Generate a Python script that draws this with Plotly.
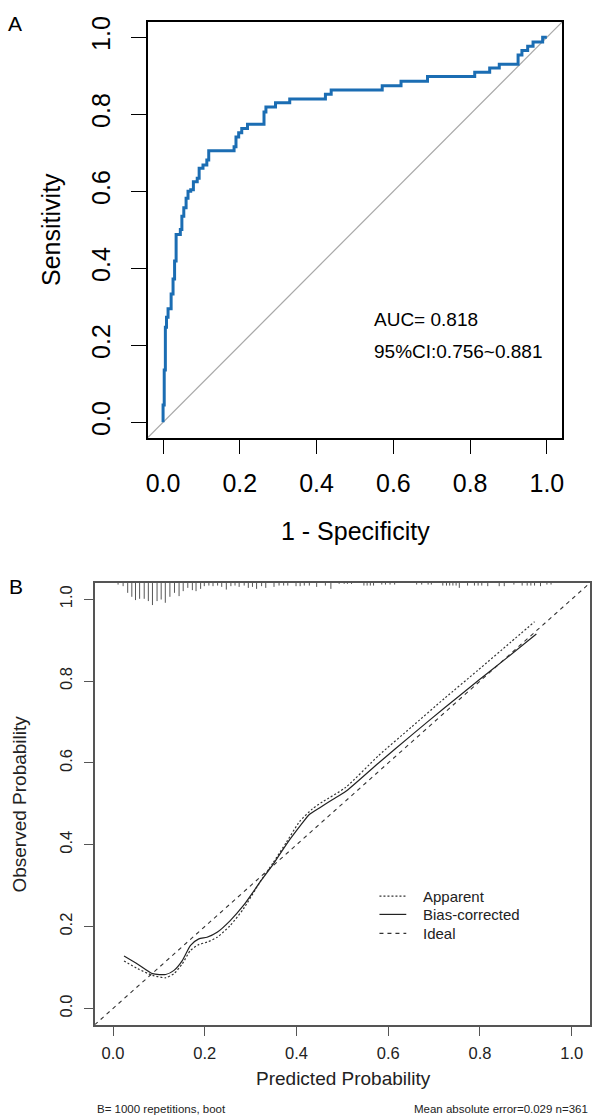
import plotly.graph_objects as go

W, H = 597, 1119


def px(x):
    return x / W


def py(y):
    return 1 - y / H


# ---------------- Panel A: ROC curve data ----------------
roc_fpr = [0.000, 0.000, 0.003, 0.006, 0.009, 0.013, 0.021, 0.026, 0.030, 0.034,
           0.045, 0.049, 0.054, 0.060, 0.065, 0.072, 0.079, 0.089, 0.094, 0.104,
           0.114, 0.119, 0.185, 0.190, 0.197, 0.205, 0.220, 0.263, 0.268, 0.293,
           0.330, 0.423, 0.438, 0.571, 0.620, 0.689, 0.812, 0.851, 0.876, 0.925,
           0.935, 0.950, 0.964, 0.989, 1.000]
roc_sens = [0.000, 0.045, 0.136, 0.247, 0.273, 0.295, 0.333, 0.372, 0.419, 0.488,
            0.501, 0.535, 0.557, 0.582, 0.600, 0.604, 0.625, 0.634, 0.660, 0.668,
            0.681, 0.705, 0.716, 0.741, 0.752, 0.763, 0.774, 0.806, 0.819, 0.830,
            0.840, 0.852, 0.863, 0.874, 0.886, 0.898, 0.909, 0.920, 0.930, 0.954,
            0.966, 0.977, 0.988, 1.000, 1.000]
ref_line = [-0.04, 1.04]
tick_vals = [0.0, 0.2, 0.4, 0.6, 0.8, 1.0]
tick_text = ["0.0", "0.2", "0.4", "0.6", "0.8", "1.0"]
auc_text = "AUC= 0.818"
ci_text = "95%CI:0.756~0.881"

# ---------------- Panel B: calibration data ----------------
app_x = [0.024, 0.054, 0.086, 0.115, 0.133, 0.151, 0.169, 0.187, 0.205, 0.227,
         0.255, 0.284, 0.320, 0.349, 0.378, 0.407, 0.435, 0.457, 0.507, 0.579,
         0.651, 0.723, 0.795, 0.867, 0.919]
app_y = [0.116, 0.097, 0.081, 0.075, 0.085, 0.109, 0.142, 0.156, 0.162, 0.174,
         0.202, 0.243, 0.308, 0.356, 0.406, 0.457, 0.488, 0.505, 0.540, 0.618,
         0.688, 0.758, 0.826, 0.895, 0.945]
bc_x = [0.024, 0.054, 0.086, 0.115, 0.133, 0.151, 0.169, 0.187, 0.205, 0.227,
        0.255, 0.284, 0.320, 0.349, 0.378, 0.410, 0.428, 0.450, 0.478, 0.507,
        0.579, 0.651, 0.723, 0.795, 0.860, 0.923]
bc_y = [0.128, 0.108, 0.085, 0.083, 0.093, 0.117, 0.154, 0.170, 0.174, 0.186,
        0.214, 0.251, 0.308, 0.352, 0.401, 0.449, 0.474, 0.490, 0.510, 0.530,
        0.600, 0.668, 0.735, 0.800, 0.858, 0.915]
rug_x = [0.011, 0.022, 0.032, 0.041, 0.049, 0.058, 0.068, 0.077, 0.086, 0.096,
         0.105, 0.114, 0.124, 0.134, 0.144, 0.153, 0.163, 0.173, 0.181, 0.191,
         0.199, 0.209, 0.218, 0.228, 0.237, 0.247, 0.257, 0.266, 0.275, 0.286,
         0.295, 0.304, 0.313, 0.324, 0.333, 0.351, 0.362, 0.372, 0.381, 0.399,
         0.408, 0.417, 0.428, 0.444, 0.463, 0.475, 0.493, 0.504, 0.511, 0.520,
         0.547, 0.554, 0.561, 0.568, 0.586, 0.594, 0.604, 0.614, 0.662, 0.673,
         0.687, 0.694, 0.719, 0.727, 0.734, 0.741, 0.748, 0.755, 0.773, 0.788,
         0.796, 0.804, 0.817, 0.842, 0.853, 0.874, 0.892, 0.903, 0.911, 0.919,
         0.932, 0.946, 0.955]
rug_freq = [1.7, 3.3, 10, 14, 17.3, 16, 16, 18.3, 22.3, 18.3,
            16.7, 20, 14, 10, 13.3, 8.3, 5, 7.3, 8.3, 6,
            3.3, 2.7, 3.3, 2.7, 4, 6.7, 3.3, 2.7, 4, 2.7,
            5, 4, 6, 3.3, 5, 4, 2.7, 2.7, 2.7, 3.3,
            3.3, 2.7, 2.7, 4, 2.7, 6, 1, 1, 1, 1,
            2.7, 2.7, 2.7, 2.7, 1.7, 1.7, 1.7, 1.7, 1.7, 1.7,
            1.7, 1.7, 2.7, 2.7, 2.7, 2.7, 2.7, 5, 2.7, 2.7,
            2.7, 2.7, 3.3, 3.3, 3.3, 1.7, 2.7, 2.7, 2.7, 2.7,
            3.3, 1.7, 1.7]
legend_names = ["Apparent", "Bias-corrected", "Ideal"]
note_left = "B= 1000 repetitions, boot"
note_right = "Mean absolute error=0.029 n=361"

AX_RANGE = [-0.04, 1.04]
FONT = "Liberation Sans, Arial, Helvetica, sans-serif"
DASHES = ["2px,2px", "solid", "4px,4px"]
COLORS_B = ["#333333", "#222222", "#333333"]

fig = go.Figure()

# Panel A
fig.add_trace(go.Scatter(x=ref_line, y=ref_line, mode="lines",
                         line=dict(color="#A8A8A8", width=1.2),
                         xaxis="x", yaxis="y", showlegend=False, hoverinfo="skip"))
fig.add_trace(go.Scatter(x=roc_fpr, y=roc_sens, mode="lines",
                         line=dict(color="#1B6DB3", width=3, shape="hv"),
                         xaxis="x", yaxis="y", showlegend=False))

# Panel B rug
rx, ry = [], []
top = AX_RANGE[1]
for xv, fv in zip(rug_x, rug_freq):
    rx += [xv, xv, None]
    ry += [top, top - fv * 0.00243, None]
fig.add_trace(go.Scatter(x=rx, y=ry, mode="lines",
                         line=dict(color="#555555", width=1),
                         xaxis="x2", yaxis="y2", showlegend=False, hoverinfo="skip"))

fig.add_trace(go.Scatter(x=app_x, y=app_y, mode="lines", name=legend_names[0],
                         line=dict(color=COLORS_B[0], width=1.2, dash=DASHES[0],
                                   shape="spline", smoothing=0.6),
                         xaxis="x2", yaxis="y2", showlegend=False))
fig.add_trace(go.Scatter(x=bc_x, y=bc_y, mode="lines", name=legend_names[1],
                         line=dict(color=COLORS_B[1], width=1.2,
                                   shape="spline", smoothing=0.6),
                         xaxis="x2", yaxis="y2", showlegend=False))
fig.add_trace(go.Scatter(x=ref_line, y=ref_line, mode="lines", name=legend_names[2],
                         line=dict(color=COLORS_B[2], width=1.1, dash=DASHES[2]),
                         xaxis="x2", yaxis="y2", showlegend=False))

axA = dict(range=AX_RANGE, tickvals=tick_vals, ticktext=tick_text, ticks="outside",
           ticklen=15, tickwidth=1.2, tickcolor="#000", showline=True, mirror=True,
           linecolor="#000", linewidth=1.5, showgrid=False, zeroline=False,
           tickfont=dict(size=25, color="#000", family=FONT), fixedrange=True)
axB = dict(range=AX_RANGE, tickvals=tick_vals, ticktext=tick_text, ticks="outside",
           ticklen=9, tickwidth=1.2, tickcolor="#555", showline=True, mirror=True,
           linecolor="#555", linewidth=1.5, showgrid=False, zeroline=False,
           tickfont=dict(size=16.5, color="#222", family=FONT), fixedrange=True)

fig.update_layout(
    width=W, height=H, margin=dict(l=0, r=0, t=0, b=0),
    paper_bgcolor="white", plot_bgcolor="white",
    font=dict(family=FONT, color="#000"),
    xaxis=dict(axA, domain=[px(146.7), px(564)], anchor="y", ticklabelstandoff=8),
    yaxis=dict(axA, domain=[py(434), py(16)], anchor="x", tickangle=-90,
               ticklabelstandoff=11),
    xaxis2=dict(axB, domain=[px(93.3), px(592)], anchor="y2", ticklabelstandoff=4),
    yaxis2=dict(axB, domain=[py(1024.3), py(580)], anchor="x2", tickangle=-90,
                ticklabelstandoff=5),
    showlegend=False,
)

# manual legend (line samples + labels) for panel B
legend_rows = [895, 913.3, 932.3]
for name, dash, col, yrow in zip(legend_names, DASHES, COLORS_B, legend_rows):
    fig.add_shape(type="line", xref="paper", yref="paper",
                  x0=px(380), x1=px(407), y0=py(yrow), y1=py(yrow),
                  line=dict(color=col, width=1.2, dash=dash))
    fig.add_annotation(text=name, x=px(421.7), y=py(yrow), xref="paper", yref="paper",
                       xanchor="left", yanchor="middle", showarrow=False,
                       font=dict(size=15, color="#222", family=FONT))

ann = [
    dict(text="A", x=px(13), y=py(17.5), size=21),
    dict(text="B", x=px(14.3), y=py(584), size=21),
    dict(text="Sensitivity", x=px(49.5), y=py(225), size=25, angle=-90),
    dict(text="1 - Specificity", x=px(356), y=py(528), size=25),
    dict(text="Observed Probability", x=px(18), y=py(802), size=19, angle=-90, color="#222"),
    dict(text="Predicted Probability", x=px(343.7), y=py(1078), size=19, color="#222"),
]
for a in ann:
    fig.add_annotation(text=a["text"], x=a["x"], y=a["y"], xref="paper", yref="paper",
                       xanchor="center", yanchor="middle", showarrow=False,
                       textangle=a.get("angle", 0),
                       font=dict(size=a["size"], color=a.get("color", "#000"), family=FONT))

fig.add_annotation(text=auc_text, x=0.545, y=0.266, xref="x", yref="y", xanchor="left",
                   yanchor="middle", showarrow=False, font=dict(size=19, color="#000", family=FONT))
fig.add_annotation(text=ci_text, x=0.545, y=0.185, xref="x", yref="y", xanchor="left",
                   yanchor="middle", showarrow=False, font=dict(size=19, color="#000", family=FONT))
fig.add_annotation(text=note_left, x=px(93.3), y=py(1109), xref="paper", yref="paper",
                   xanchor="left", yanchor="middle", showarrow=False,
                   font=dict(size=11.5, color="#222", family=FONT))
fig.add_annotation(text=note_right, x=px(591.7), y=py(1109), xref="paper", yref="paper",
                   xanchor="right", yanchor="middle", showarrow=False,
                   font=dict(size=11.5, color="#222", family=FONT))

fig.write_html("out.html")
